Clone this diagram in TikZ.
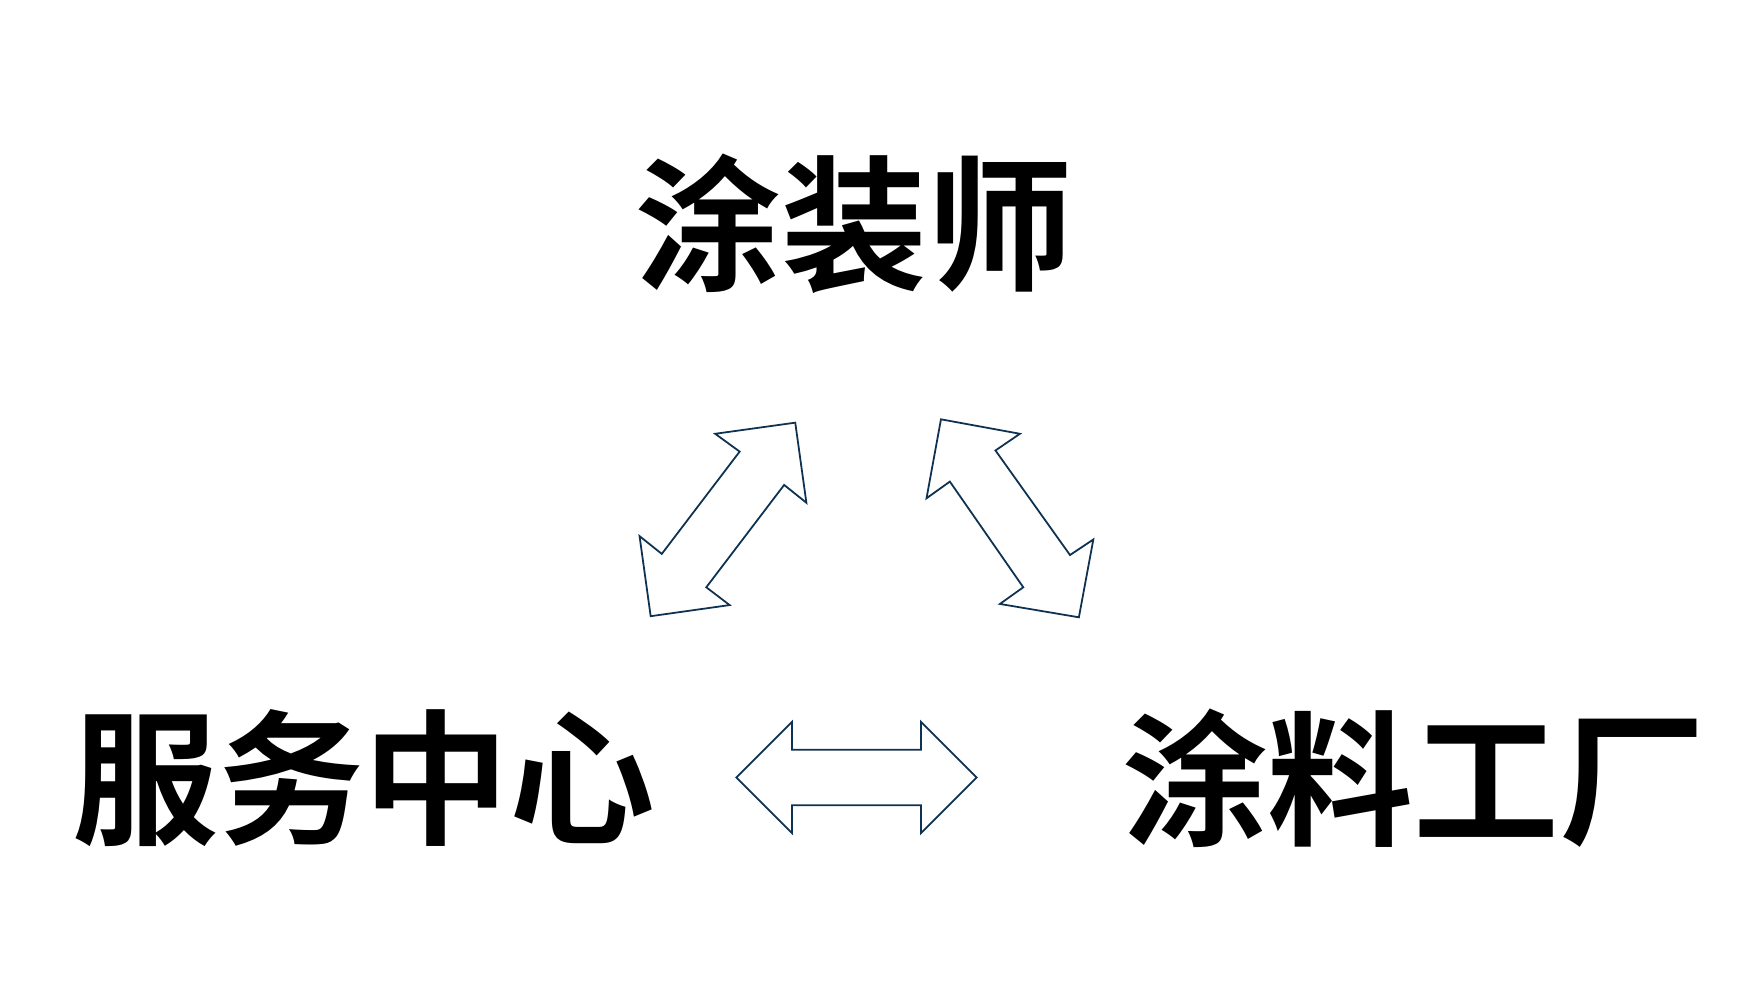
\documentclass[tikz,border=0pt]{standalone}
\usepackage{fontspec}
\newfontfamily\cjkbold{Noto Sans CJK SC Bold}
\definecolor{arrowline}{RGB}{14,50,82}
\begin{document}
\begin{tikzpicture}[x=1pt,y=-1pt,
  label text/.style={inner sep=0pt,font=\cjkbold\fontsize{131pt}{131pt}\selectfont},
  block arrow/.style={draw=arrowline,line width=1.6pt,fill=white,line join=miter}]
\useasboundingbox (0,0) rectangle (1568,905.4);
\node[label text] (painter) at (768,201) {涂装师};
\node[label text] (service) at (327,700) {服务中心};
\node[label text] (factory) at (1271,700) {涂料工厂};
% left diagonal double arrow
\draw[block arrow] (643,390) -- (715,380) -- (725,452) -- (705,436) -- (635,528) -- (656,544) -- (585,554) -- (575,482) -- (595,498) -- (665,406) -- cycle;
% right diagonal double arrow
\draw[block arrow] (846,377) -- (917,390) -- (895,405) -- (962,499) -- (983,485) -- (970,555) -- (899,543) -- (920,528) -- (854,433) -- (833,448) -- cycle;
% horizontal double arrow
\draw[block arrow] (662,699) -- (712,649) -- (712,674) -- (828,674) -- (828,649) -- (878,699) -- (828,749) -- (828,724) -- (712,724) -- (712,749) -- cycle;
\end{tikzpicture}
\end{document}
